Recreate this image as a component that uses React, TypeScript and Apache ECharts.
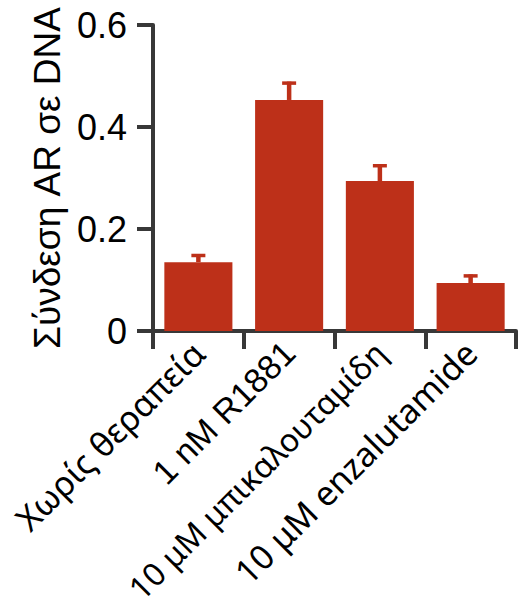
import React, { useEffect, useRef } from "react";
import * as echarts from "echarts";

const categories = ["Χωρίς θεραπεία", "1 nM R1881", "10 μM μπικαλουταμίδη", "10 μM enzalutamide"];
const categoryFonts = ["Noto Sans", "Liberation Sans", "Noto Sans", "Noto Sans"];
const categoryFontSizes = [34, 34, 32, 34];
const values = [0.135, 0.453, 0.294, 0.094];
const errorTops = [0.151, 0.489, 0.327, 0.111];
const yTicks = [0, 0.2, 0.4, 0.6];
const yName = "Σύνδεση AR σε DNA";

const RED = "#BD3019";
const AXIS = "#383838";

export default function App() {
  const ref = useRef<HTMLDivElement>(null);
  useEffect(() => {
    document.body.style.margin = "0";
    const chart = echarts.init(ref.current!, null, { renderer: "svg" });
    chart.setOption({
      animation: false,
      grid: {
        left: 153,
        right: 2,
        top: 25,
        bottom: 281,
        containLabel: false,
        outerBoundsMode: "none",
      },
      xAxis: {
        type: "category",
        data: categories.map((c, i) => ({
          value: c,
          textStyle: { fontFamily: categoryFonts[i], fontSize: categoryFontSizes[i] },
        })),
        boundaryGap: true,
        axisLine: { show: true, lineStyle: { color: AXIS, width: 4 } },
        axisTick: { show: true, length: 18, lineStyle: { color: AXIS, width: 4 }, alignWithLabel: false },
        axisLabel: {
          rotate: 45,
          interval: 0,
          margin: 16,
          fontSize: 32,
          color: "#000",
          fontFamily: "Noto Sans",
        },
      },
      yAxis: {
        type: "value",
        min: yTicks[0],
        max: yTicks[yTicks.length - 1],
        interval: 0.2,
        name: yName,
        nameLocation: "middle",
        nameGap: 82,
        nameRotate: 90,
        nameTextStyle: { fontSize: 37, color: "#000", fontFamily: "Liberation Sans" },
        splitLine: { show: false },
        axisLine: { show: true, lineStyle: { color: AXIS, width: 4 } },
        axisTick: { show: true, length: 16, lineStyle: { color: AXIS, width: 4 } },
        axisLabel: {
          margin: 26,
          fontSize: 36,
          color: "#000",
          fontFamily: "Liberation Sans",
          formatter: (v: number) => (v === 0 ? "0" : v.toFixed(1)),
        },
      },
      series: [
        {
          type: "bar",
          data: values,
          barWidth: "75%",
          itemStyle: { color: RED },
          z: 2,
        },
        {
          type: "custom",
          z: 3,
          data: values.map((v, i) => [i, v, errorTops[i]]),
          renderItem: (params: any, api: any) => {
            const i = api.value(0);
            const base = api.coord([i, api.value(1)]);
            const top = api.coord([i, api.value(2)]);
            const capHalf = 7;
            return {
              type: "group",
              children: [
                {
                  type: "line",
                  shape: { x1: base[0], y1: base[1], x2: top[0], y2: top[1] },
                  style: { stroke: RED, lineWidth: 4.5 },
                },
                {
                  type: "line",
                  shape: { x1: top[0] - capHalf, y1: top[1] + 1.5, x2: top[0] + capHalf, y2: top[1] + 1.5 },
                  style: { stroke: RED, lineWidth: 3.5 },
                },
              ],
            };
          },
        },
      ],
    });
    return () => chart.dispose();
  }, []);
  return <div ref={ref} style={{ width: 518, height: 612 }} />;
}
